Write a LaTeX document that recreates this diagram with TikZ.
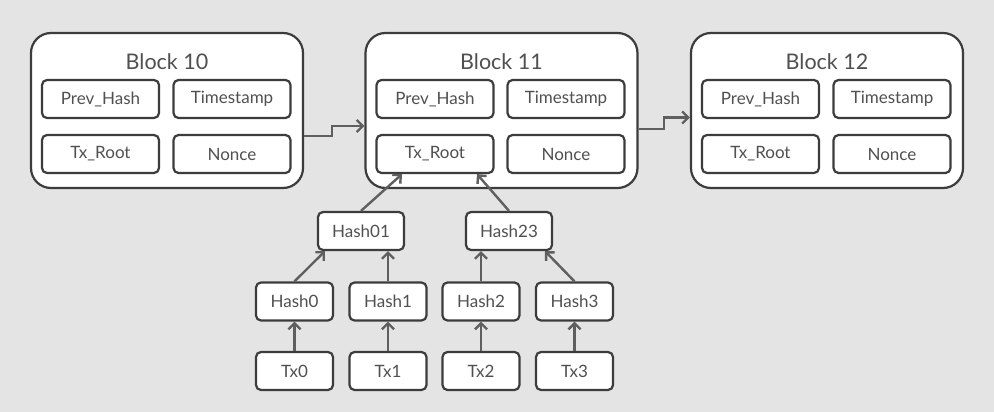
\documentclass[tikz,border=0pt]{standalone}
\usepackage{fontspec}
\setmainfont{Lato}
\usetikzlibrary{positioning, arrows.meta}
\definecolor{ChainBg}{RGB}{228, 228, 228}
\definecolor{ChainEdge}{RGB}{60, 60, 60}
\definecolor{ChainText}{RGB}{80, 80, 80}
\definecolor{ChainLink}{RGB}{95, 95, 95}

\begin{document}
\begin{tikzpicture}[
        x=1pt, y=-1pt,
        block/.style={
          rectangle,
          draw=ChainEdge,
          line width=2.2pt,
          rounded corners=20pt,
          fill=white,
          minimum width=272pt,
          minimum height=155pt
        },
        title/.style={
          text=ChainText,
          font=\fontsize{21.5}{25}\selectfont
        },
        field/.style={
          rectangle,
          draw=ChainEdge,
          line width=2.2pt,
          rounded corners=5pt,
          fill=white,
          text=ChainText,
          minimum width=117pt,
          minimum height=38pt,
          font=\fontsize{17}{20}\selectfont
        },
        leaf/.style={
          field,
          minimum width=77pt
        },
        link/.style={
          draw=ChainLink,
          line width=2.4pt,
          -{Straight Barb[length=6pt, width=12pt, line width=2.4pt]}
        }
      ]
        \fill[ChainBg] (0,0) rectangle (994,412);

        % blocks
        \node (b10) at (167, 110.5)   [block] {};
        \node (b11) at (501.5, 110.5) [block] {};
        \node (b12) at (827, 110.5)   [block] {};
        \node (t10) at (167, 62)   [title] {Block 10};
        \node (t11) at (501.5, 62) [title] {Block 11};
        \node (t12) at (827, 62)   [title] {Block 12};

        \node (ph10) at (100.5, 99)  [field] {Prev\_Hash};
        \node (ts10) at (232, 99)    [field] {Timestamp};
        \node (tr10) at (100.5, 154) [field] {Tx\_Root};
        \node (nc10) at (232, 154)   [field] {Nonce};

        \node (ph11) at (435, 99)   [field] {Prev\_Hash};
        \node (ts11) at (566, 99)   [field] {Timestamp};
        \node (tr11) at (435, 154)  [field] {Tx\_Root};
        \node (nc11) at (566, 154)  [field] {Nonce};

        \node (ph12) at (760.5, 99)  [field] {Prev\_Hash};
        \node (ts12) at (892, 99)    [field] {Timestamp};
        \node (tr12) at (760.5, 154) [field] {Tx\_Root};
        \node (nc12) at (892, 154)   [field] {Nonce};

        % merkle tree
        \node (h01) at (361, 231) [leaf, minimum width=86pt] {Hash01};
        \node (h23) at (509, 231) [leaf, minimum width=86pt] {Hash23};
        \node (h0) at (294.5, 301.5) [leaf] {Hash0};
        \node (h1) at (388, 301.5)   [leaf] {Hash1};
        \node (h2) at (481, 301.5)   [leaf] {Hash2};
        \node (h3) at (574.5, 301.5) [leaf] {Hash3};
        \node (tx0) at (294.5, 371) [leaf] {Tx0};
        \node (tx1) at (388, 371)   [leaf] {Tx1};
        \node (tx2) at (481, 371)   [leaf] {Tx2};
        \node (tx3) at (574.5, 371) [leaf] {Tx3};

        % chain links
        \coordinate (j1) at (332, 126);
        \coordinate (j2) at (664, 117.5);
        \draw[link] ([yshift=-25.5pt]b10.east) -| (j1) -- (b11.west |- j1);
        \draw[link] ([yshift=-18.5pt]b11.east) -| (j2) -- (b12.west |- j2);

        \draw[link] (tx0) -- (h0);
        \draw[link] (tx1) -- (h1);
        \draw[link] (tx2) -- (h2);
        \draw[link] (tx3) -- (h3);
        \draw[link] (h0.north) -- ([xshift=-36pt]h01.south);
        \draw[link] (h1.north) -- (h1.north |- h01.south);
        \draw[link] (h2.north) -- (h2.north |- h23.south);
        \draw[link] (h3.north) -- ([xshift=36pt]h23.south);
        \draw[link] (h01.north) -- ([xshift=-33pt]tr11.south);
        \draw[link] (h23.north) -- ([xshift=42pt]tr11.south);
      \end{tikzpicture}
\end{document}
